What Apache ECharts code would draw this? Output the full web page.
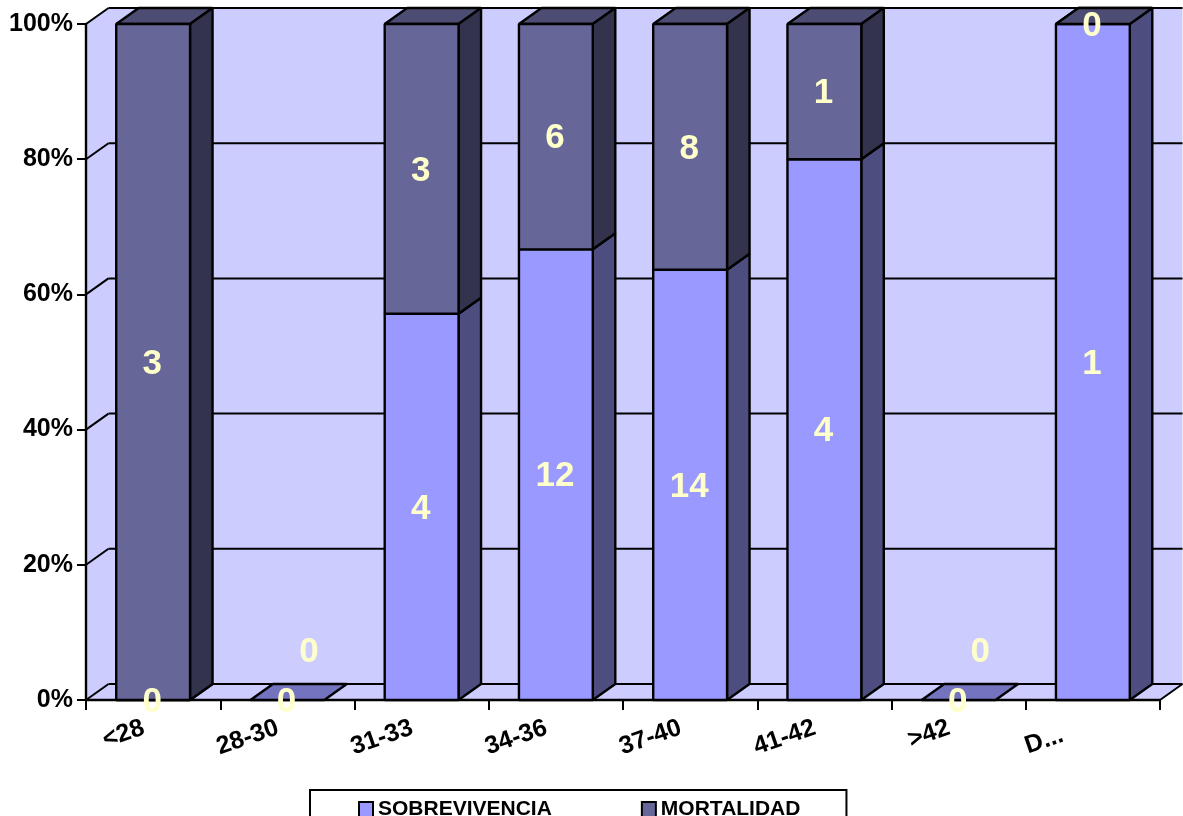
<!DOCTYPE html>
<html>
<head>
<meta charset="utf-8">
<style>
html,body{margin:0;padding:0;background:#fff;overflow:hidden}
#chart{width:1183px;height:816px}
</style>
<script src="https://cdn.jsdelivr.net/npm/echarts@6/dist/echarts.min.js"></script>
</head>
<body>
<div id="chart"></div>
<script>
// Age bands and counts per outcome
const categories = ['<28', '28-30', '31-33', '34-36', '37-40', '41-42', '>42', 'D...'];
const sobrevivencia = [0, 0, 4, 12, 14, 4, 0, 1];
const mortalidad = [3, 0, 3, 6, 8, 1, 0, 0];
const percentTicks = [0, 20, 40, 60, 80, 100];

const FONT = '"Liberation Sans", Arial, sans-serif';
const DEPTH_X = 22.5, DEPTH_Y = -16;        // oblique projection of the 3D depth
const BAR_RATIO = 0.55;
const EDGE = { stroke: '#000', lineWidth: 2.4, lineJoin: 'bevel' };
const SOB = { front: '#9999FF', side: '#4D4D80', top: '#7373BF' };
const MOR = { front: '#666699', side: '#33334D', top: '#4D4D73' };

const totals = categories.map((_, i) => sobrevivencia[i] + mortalidad[i]);
const pct = (v, i) => (totals[i] ? (v / totals[i]) * 100 : 0);

function poly(points, fill, stroke) {
  return {
    type: 'polygon',
    shape: { points },
    style: stroke ? Object.assign({ fill }, EDGE) : { fill, stroke: null }
  };
}
function seg(x1, y1, x2, y2) {
  return { type: 'line', shape: { x1, y1, x2, y2 }, style: { stroke: '#000', lineWidth: 2 } };
}

// Side wall, floor, back wall and its grid lines
function renderWalls(params, api) {
  const cs = params.coordSys;
  const L = cs.x, R = cs.x + cs.width;
  const y = api.coord([0, api.value(1)])[1];
  const children = [];
  if (params.dataIndex === 0) {
    const T = cs.y, B = cs.y + cs.height;
    const bx = L + DEPTH_X, dx = R + DEPTH_X;
    children.push(poly([[L, T], [bx, T + DEPTH_Y], [dx, T + DEPTH_Y], [dx, B + DEPTH_Y], [R, B], [L, B]], '#CCCCFF'));
    children.push(seg(R, B, dx, B + DEPTH_Y));
  }
  children.push(seg(L, y, L + DEPTH_X, y + DEPTH_Y));
  children.push(seg(L + DEPTH_X, y + DEPTH_Y, R + DEPTH_X, y + DEPTH_Y));
  return { type: 'group', children };
}

// One stacked 3D block: value(0) category, value(1) lower %, value(2) upper %
function renderBlock(colors) {
  return function (params, api) {
    const i = api.value(0);
    if (colors === MOR && !totals[i]) return { type: 'group', children: [] };
    const c = api.coord([i, api.value(1)]);
    const d = api.coord([i, api.value(2)]);
    const w = api.size([1, 0])[0] * BAR_RATIO;
    const x0 = c[0] - w / 2, x1 = c[0] + w / 2;
    const lo = c[1], hi = d[1];
    const children = [];
    children.push(poly([[x0, hi], [x1, hi], [x1 + DEPTH_X, hi + DEPTH_Y], [x0 + DEPTH_X, hi + DEPTH_Y]], colors.top, true));
    if (lo !== hi) {
      children.push(poly([[x1, lo], [x1 + DEPTH_X, lo + DEPTH_Y], [x1 + DEPTH_X, hi + DEPTH_Y], [x1, hi]], colors.side, true));
      children.push(poly([[x0, lo], [x1, lo], [x1, hi], [x0, hi]], colors.front, true));
    }
    return { type: 'group', children };
  };
}

// Counts written in the middle of their block; empty categories float the second count
function renderCount(params, api) {
  const i = api.value(0);
  const p = api.coord([i, api.value(1)]);
  const raised = api.value(3) === 1;
  return {
    type: 'text',
    x: p[0] - 1 + (raised ? DEPTH_X : 0),
    y: p[1] + 2 + (raised ? -50 : 0),
    style: {
      text: String(api.value(2)),
      fill: '#FFFFCC',
      fontSize: 35,
      fontWeight: 'bold',
      fontFamily: FONT,
      align: 'center',
      verticalAlign: 'middle'
    }
  };
}

const sobData = categories.map((_, i) => [i, 0, pct(sobrevivencia[i], i)]);
const morData = categories.map((_, i) => [i, pct(sobrevivencia[i], i), 100 * (totals[i] ? 1 : 0)]);
const countData = [];
categories.forEach((_, i) => {
  const a = pct(sobrevivencia[i], i);
  countData.push([i, a / 2, sobrevivencia[i], 0]);
  countData.push([i, totals[i] ? a + (100 - a) / 2 : 0, mortalidad[i], totals[i] ? 0 : 1]);
});

const tickFont = { color: '#000', fontSize: 25, fontWeight: 'bold', fontFamily: FONT };

const chart = echarts.init(document.getElementById('chart'), null, { renderer: 'canvas' });
chart.setOption({
  animation: false,
  backgroundColor: '#fff',
  grid: { left: 86, right: 23, top: 24, bottom: 116 },
  legend: {
    left: 310,
    top: 790,
    orient: 'horizontal',
    padding: [9, 46, 20, 48],
    itemGap: 89,
    itemWidth: 14,
    itemHeight: 15,
    icon: 'rect',
    selectedMode: false,
    backgroundColor: '#fff',
    borderColor: '#000',
    borderWidth: 2,
    borderRadius: 0,
    textStyle: { color: '#000', fontSize: 21, fontWeight: 'bold', fontFamily: FONT, padding: [0, 0, 3, 0] },
    data: [
      { name: 'SOBREVIVENCIA', itemStyle: { color: SOB.front, borderColor: '#000', borderWidth: 2 } },
      { name: 'MORTALIDAD', itemStyle: { color: MOR.front, borderColor: '#000', borderWidth: 2 } }
    ]
  },
  xAxis: {
    type: 'category',
    data: categories,
    z: 2,
    axisLine: { lineStyle: { color: '#000', width: 2.4 } },
    axisTick: { show: true, alignWithLabel: false, length: 10, lineStyle: { color: '#000', width: 2 } },
    axisLabel: Object.assign({
      interval: 0,
      rotate: 19,
      margin: 24,
      padding: [0, 10, 0, 0],
      hideOverlap: false,
      // the truncated last band sits further along its baseline
      formatter: v => (v === 'D...' ? '{cut|' + v + '}' : v),
      rich: { cut: Object.assign({ padding: [0, 22, 0, 0] }, tickFont) }
    }, tickFont),
    splitLine: { show: false }
  },
  yAxis: {
    type: 'value',
    min: 0,
    max: 100,
    interval: 20,
    z: 2,
    axisLine: { show: true, lineStyle: { color: '#000', width: 2.4 } },
    axisTick: { show: true, length: 9, lineStyle: { color: '#000', width: 2 } },
    axisLabel: Object.assign({ margin: 13, formatter: '{value}%' }, tickFont),
    splitLine: { show: false }
  },
  series: [
    { type: 'custom', name: 'paredes', z: 1, silent: true, renderItem: renderWalls, data: percentTicks.map(t => [0, t]) },
    { type: 'custom', name: 'SOBREVIVENCIA', z: 3, itemStyle: { color: SOB.front }, renderItem: renderBlock(SOB), data: sobData },
    { type: 'custom', name: 'MORTALIDAD', z: 4, itemStyle: { color: MOR.front }, renderItem: renderBlock(MOR), data: morData },
    { type: 'custom', name: 'conteos', z: 5, silent: true, renderItem: renderCount, data: countData }
  ]
});
</script>
</body>
</html>
